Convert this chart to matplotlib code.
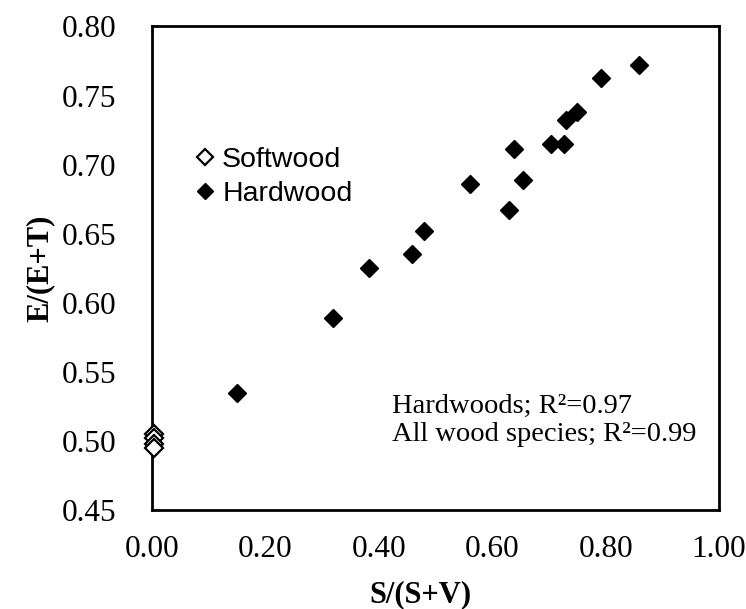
import matplotlib.pyplot as plt

# softwood samples sit at S/(S+V) ~ 0
soft_x = [0.003, 0.003, 0.003, 0.003]
soft_y = [0.505, 0.502, 0.498, 0.495]

# hardwood samples
hard_x = [0.149, 0.319, 0.382, 0.458, 0.480, 0.560, 0.629, 0.639, 0.654,
          0.703, 0.726, 0.731, 0.749, 0.791, 0.859]
hard_y = [0.535, 0.589, 0.625, 0.635, 0.652, 0.686, 0.667, 0.711, 0.689,
          0.715, 0.715, 0.732, 0.738, 0.763, 0.772]

x_ticks = [0.0, 0.2, 0.4, 0.6, 0.8, 1.0]
y_ticks = [0.45, 0.50, 0.55, 0.60, 0.65, 0.70, 0.75, 0.80]

fig = plt.figure(figsize=(7.46, 6.09), dpi=100)
ax = fig.add_axes([0.2038, 0.1626, 0.76, 0.7939])

ax.plot(soft_x, soft_y, linestyle='none', marker='D', markersize=9,
        markerfacecolor='white', markeredgecolor='black', markeredgewidth=1.6,
        label='Softwood', clip_on=False, zorder=3)
ax.plot(hard_x, hard_y, linestyle='none', marker='D', markersize=9,
        markerfacecolor='black', markeredgecolor='black', markeredgewidth=1.0,
        label='Hardwood', zorder=3)

ax.set_xlim(0, 1)
ax.set_ylim(0.45, 0.80)
ax.set_xticks(x_ticks)
ax.set_yticks(y_ticks)
ax.set_xticklabels([f'{v:.2f}' for v in x_ticks])
ax.set_yticklabels([f'{v:.2f}' for v in y_ticks])
ax.tick_params(length=0, labelsize=22.5)
ax.tick_params(axis='y', pad=26)
ax.tick_params(axis='x', pad=18)
for lab in ax.get_xticklabels() + ax.get_yticklabels():
    lab.set_fontfamily('Liberation Serif')

for s in ax.spines.values():
    s.set_linewidth(2)
    s.set_color('black')

ax.set_xlabel('S/(S+V)', fontsize=22, fontweight='bold', family='Liberation Serif')
ax.set_ylabel('E/(E+T)', fontsize=22, fontweight='bold', family='Liberation Serif')
ax.xaxis.set_label_coords(0.474, -0.145)
ax.yaxis.set_label_coords(-0.172, 0.5)

leg = ax.legend(loc='center left', bbox_to_anchor=(0.081, 0.689), frameon=False,
                prop={'family': 'Liberation Sans', 'size': 20.5},
                handlelength=0.5, handletextpad=0.35, labelspacing=0.3,
                borderpad=0, borderaxespad=0, markerscale=0.85)

ax.text(0.423, 0.525, 'Hardwoods; R²=0.97', fontsize=20.5,
        family='Liberation Serif', va='center', ha='left')
ax.text(0.423, 0.505, 'All wood species; R²=0.99', fontsize=20.5,
        family='Liberation Serif', va='center', ha='left')

fig.savefig('out.png', dpi=100)
